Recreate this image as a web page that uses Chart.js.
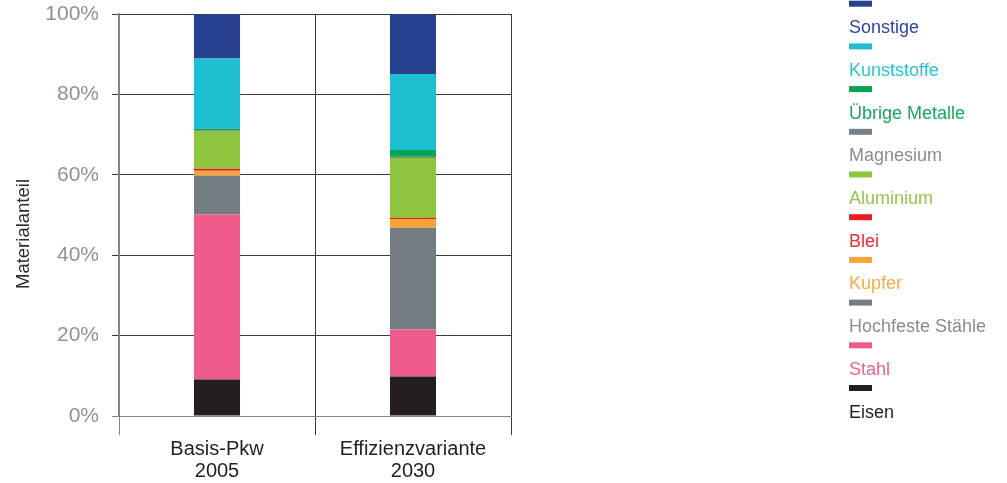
<!DOCTYPE html>
<html>
<head>
<meta charset="utf-8">
<script src="https://cdn.jsdelivr.net/npm/chart.js@4/dist/chart.umd.min.js"></script>
<style>
  html, body { margin: 0; padding: 0; background: #ffffff; }
  #wrap { width: 1007px; height: 483px; position: relative; }
</style>
</head>
<body>
<div id="wrap"><canvas id="c"></canvas></div>
<script>
// Vehicle material shares (percent of total mass), bottom to top of each stack
const categories = [['Basis-Pkw', '2005'], ['Effizienzvariante', '2030']];
const yTicks = [0, 20, 40, 60, 80, 100];

const eisen          = [9.1, 9.8];
const stahl          = [41.0, 11.7];
const hochfeste      = [9.7, 25.3];
const kupfer         = [1.2, 2.2];
const blei           = [0.5, 0.3];
const aluminium      = [9.2, 14.9];
const magnesium      = [0.3, 0.3];
const uebrigeMetalle = [0.5, 1.7];
const kunststoffe    = [17.4, 18.9];
const sonstige       = [11.1, 14.9];

const series = [
  { label: 'Eisen',            data: eisen,          color: '#231f20', text: '#231f20' },
  { label: 'Stahl',            data: stahl,          color: '#ef5b8b', text: '#f0628f' },
  { label: 'Hochfeste Stähle', data: hochfeste,      color: '#737d82', text: '#858e93' },
  { label: 'Kupfer',           data: kupfer,         color: '#f9a535', text: '#f9ab45' },
  { label: 'Blei',             data: blei,           color: '#ec1c24', text: '#ec2a31' },
  { label: 'Aluminium',        data: aluminium,      color: '#8dc53f', text: '#8fc748' },
  { label: 'Magnesium',        data: magnesium,      color: '#7a8186', text: '#858e93' },
  { label: 'Übrige Metalle',   data: uebrigeMetalle, color: '#00a551', text: '#17a85c' },
  { label: 'Kunststoffe',      data: kunststoffe,    color: '#1ebfd0', text: '#2cc2d2' },
  { label: 'Sonstige',         data: sonstige,       color: '#25418f', text: '#2f4895' }
];

const FONT = '"Liberation Sans", Arial, sans-serif';

// Legend on the right: colour bar above each label, top entry = top of the stack
const sideLegend = {
  id: 'sideLegend',
  afterDraw(chart) {
    const ctx = chart.ctx;
    const items = chart.data.datasets.slice().reverse();
    ctx.save();
    ctx.font = '18px ' + FONT;
    ctx.textAlign = 'left';
    ctx.textBaseline = 'alphabetic';
    items.forEach((ds, i) => {
      const top = 0.7 + 42.7 * i;
      ctx.fillStyle = ds.backgroundColor;
      ctx.fillRect(849, top, 23, 6);
      ctx.fillStyle = ds.labelColor;
      ctx.fillText(ds.label, 849, top + 32.5);
    });
    ctx.restore();
  }
};

// Vertical axis title
const yTitle = {
  id: 'yTitle',
  afterDraw(chart) {
    const ctx = chart.ctx;
    ctx.save();
    ctx.translate(24, 234);
    ctx.rotate(-Math.PI / 2);
    ctx.font = '18.5px ' + FONT;
    ctx.fillStyle = '#2b2b2b';
    ctx.textAlign = 'center';
    ctx.textBaseline = 'middle';
    ctx.fillText('Materialanteil', 0, 0);
    ctx.restore();
  }
};

new Chart(document.getElementById('c'), {
  type: 'bar',
  data: {
    labels: categories,
    datasets: series.map(s => ({
      label: s.label,
      data: s.data,
      backgroundColor: s.color,
      labelColor: s.text,
      borderWidth: 0,
      categoryPercentage: 1,
      barPercentage: 0.235
    }))
  },
  plugins: [sideLegend, yTitle],
  options: {
    responsive: true,
    maintainAspectRatio: false,
    animation: false,
    layout: { padding: { top: 14, right: 496, left: 0, bottom: 0 } },
    plugins: {
      legend: { display: false },
      tooltip: { enabled: false }
    },
    scales: {
      x: {
        stacked: true,
        afterFit(scale) {
          scale.height = 67;
          scale.paddingLeft = 0;
          scale.paddingRight = 0;
        },
        grid: {
          offset: true,
          color: ctx => ctx.index === 0 ? '#7d868c' : '#3a3a3a',
          lineWidth: 1,
          tickLength: 19,
          drawOnChartArea: true
        },
        border: { display: true, color: '#7d868c', width: 1 },
        ticks: {
          color: '#231f20',
          font: { family: FONT, size: 20, lineHeight: 1.1 },
          padding: 3,
          maxRotation: 0
        }
      },
      y: {
        stacked: true,
        min: 0,
        max: 100,
        afterFit(scale) {
          scale.width = 119;
          scale.paddingTop = 0;
          scale.paddingBottom = 0;
        },
        afterBuildTicks(scale) { scale.ticks = yTicks.map(v => ({ value: v })); },
        grid: {
          color: ctx => (ctx.tick && ctx.tick.value === 0) ? '#7d868c' : '#3a3a3a',
          lineWidth: 1,
          tickLength: 7
        },
        border: { display: true, color: '#7d868c', width: 1.5 },
        ticks: {
          color: '#8a9398',
          font: { family: FONT, size: 21 },
          padding: 13,
          callback: v => v + '%'
        }
      }
    }
  }
});
</script>
</body>
</html>
